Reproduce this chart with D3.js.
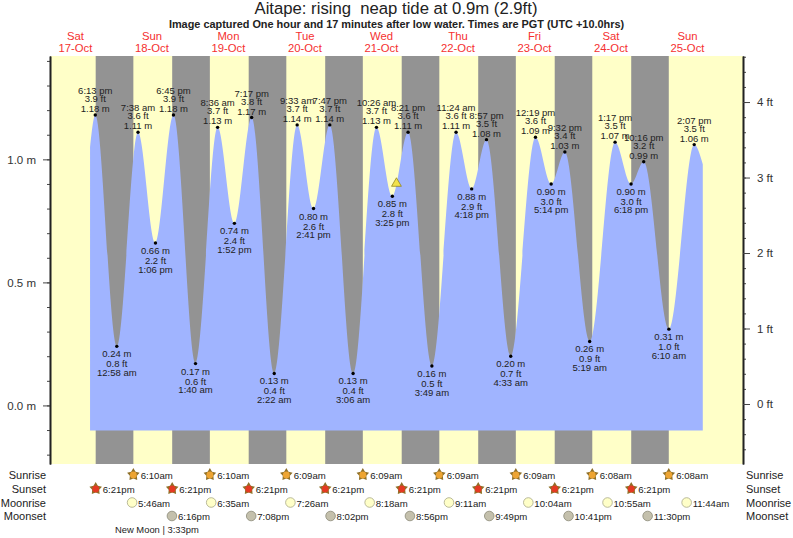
<!DOCTYPE html>
<html>
<head>
<meta charset="utf-8">
<script src="https://cdn.jsdelivr.net/npm/d3@7"></script>
<style>
  body { margin: 0; background: #fff; }
  svg { display: block; font-family: "Liberation Sans", sans-serif; }
  text { white-space: pre; }
</style>
</head>
<body>
<svg id="chart" width="793" height="538"></svg>
<script>
// Tide turning points, first and last entries are where the plotted curve is cut off
var tideTimes = ["17-Oct 4:35 pm", "17-Oct 6:13 pm", "18-Oct 12:58 am", "18-Oct 7:38 am", "18-Oct 1:06 pm", "18-Oct 6:45 pm",
  "19-Oct 1:40 am", "19-Oct 8:36 am", "19-Oct 1:52 pm", "19-Oct 7:17 pm", "20-Oct 2:22 am", "20-Oct 9:33 am", "20-Oct 2:41 pm",
  "20-Oct 7:47 pm", "21-Oct 3:06 am", "21-Oct 10:26 am", "21-Oct 3:25 pm", "21-Oct 8:21 pm", "22-Oct 3:49 am", "22-Oct 11:24 am",
  "22-Oct 4:18 pm", "22-Oct 8:57 pm", "23-Oct 4:33 am", "23-Oct 12:19 pm", "23-Oct 5:14 pm", "23-Oct 9:32 pm", "24-Oct 5:19 am",
  "24-Oct 1:17 pm", "24-Oct 6:18 pm", "24-Oct 10:16 pm", "25-Oct 6:10 am", "25-Oct 2:07 pm", "25-Oct 4:48 pm"];
var tideMetres = [1.05, 1.18, 0.24, 1.11, 0.66, 1.18, 0.17, 1.13, 0.74, 1.17, 0.13, 1.14, 0.80, 1.14, 0.13, 1.13, 0.85, 1.11,
  0.16, 1.11, 0.88, 1.08, 0.20, 1.09, 0.90, 1.03, 0.26, 1.07, 0.90, 0.99, 0.31, 1.06, 0.98];
var tideFeet = [null, 3.9, 0.8, 3.6, 2.2, 3.9, 0.6, 3.7, 2.4, 3.8, 0.4, 3.7, 2.6, 3.7, 0.4, 3.7, 2.8, 3.6,
  0.5, 3.6, 2.9, 3.5, 0.7, 3.6, 3.0, 3.4, 0.9, 3.5, 3.0, 3.2, 1.0, 3.5, null];

var dayNames = ["Sat", "Sun", "Mon", "Tue", "Wed", "Thu", "Fri", "Sat", "Sun"];
var dayDates = ["17-Oct", "18-Oct", "19-Oct", "20-Oct", "21-Oct", "22-Oct", "23-Oct", "24-Oct", "25-Oct"];

var sunrises = ["18-Oct 6:10 am", "19-Oct 6:10 am", "20-Oct 6:09 am", "21-Oct 6:09 am", "22-Oct 6:09 am", "23-Oct 6:09 am", "24-Oct 6:08 am", "25-Oct 6:08 am"];
var sunsets = ["17-Oct 6:21 pm", "18-Oct 6:21 pm", "19-Oct 6:21 pm", "20-Oct 6:21 pm", "21-Oct 6:21 pm", "22-Oct 6:21 pm", "23-Oct 6:21 pm", "24-Oct 6:21 pm"];
var moonrises = ["18-Oct 5:46 am", "19-Oct 6:35 am", "20-Oct 7:26 am", "21-Oct 8:18 am", "22-Oct 9:11 am", "23-Oct 10:04 am", "24-Oct 10:55 am", "25-Oct 11:44 am"];
var moonsets = ["18-Oct 6:16 pm", "19-Oct 7:08 pm", "20-Oct 8:02 pm", "21-Oct 8:56 pm", "22-Oct 9:49 pm", "23-Oct 10:41 pm", "24-Oct 11:30 pm"];

var metreTicks = [0, 0.5, 1];
var footTicks = [0, 1, 2, 3, 4];

var parseTime = d3.utcParse("%d-%b %I:%M %p");
var svg = d3.select("#chart");

var top_y = 56, bottom_y = 464, left_x = 50, right_x = 743;

var x = d3.scaleUtc()
  .domain([parseTime("17-Oct 4:01 am"), parseTime("26-Oct 5:25 am")])
  .range([left_x, right_x]);
var yM = d3.scaleLinear().domain([-0.238, 1.42]).range([bottom_y, top_y]);
var yF = d3.scaleLinear().domain([-0.795, 4.61]).range([bottom_y, top_y]);

// Day background and nights
svg.append("rect")
  .attr("x", x.range()[0]).attr("y", top_y)
  .attr("width", right_x - left_x).attr("height", bottom_y - top_y)
  .attr("fill", "#ffffc8");

svg.selectAll("rect.night")
  .data(sunsets)
  .join("rect")
  .attr("class", "night")
  .attr("x", d => x(parseTime(d)))
  .attr("y", top_y)
  .attr("width", (d, i) => x(parseTime(sunrises[i])) - x(parseTime(d)))
  .attr("height", bottom_y - top_y)
  .attr("fill", "#939393");

// Water
var tide = tideTimes.map((t, i) => ({ time: parseTime(t), m: tideMetres[i], ft: tideFeet[i], raw: t }));
var area = d3.area()
  .x(d => x(d.time))
  .y0(yM(-0.102))
  .y1(d => yM(d.m))
  .curve(d3.curveMonotoneX);
svg.append("path").datum(tide).attr("d", area).attr("fill", "#a0b4ff");

// Axes
function styleAxis(g) {
  g.selectAll("path").attr("stroke", "#222").attr("stroke-width", 1.6);
  g.selectAll("line").attr("stroke", "#444");
  g.selectAll("text").attr("fill", "#333").attr("font-size", 11.5).attr("font-family", "Liberation Sans");
}
var leftMinor = [];
d3.range(-2, 15).forEach(i => leftMinor.push(i / 10));
var rightMinor = [];
d3.range(-3, 24).forEach(i => rightMinor.push(i / 5));

svg.append("g").attr("transform", "translate(" + left_x + ",0)")
  .call(d3.axisLeft(yM).tickValues(leftMinor).tickSize(3).tickFormat("").tickSizeOuter(0)).call(styleAxis);
svg.append("g").attr("transform", "translate(" + left_x + ",0)")
  .call(d3.axisLeft(yM).tickValues(metreTicks).tickSize(7).tickPadding(7).tickSizeOuter(0).tickFormat(d => d3.format(".1f")(d) + " m")).call(styleAxis);
svg.append("g").attr("transform", "translate(" + right_x + ",0)")
  .call(d3.axisRight(yF).tickValues(rightMinor).tickSize(3).tickFormat("").tickSizeOuter(0)).call(styleAxis);
svg.append("g").attr("transform", "translate(" + right_x + ",0)")
  .call(d3.axisRight(yF).tickValues(footTicks).tickSize(7).tickPadding(7).tickSizeOuter(0).tickFormat(d => d + " ft")).call(styleAxis);

// Titles
svg.append("text").attr("x", 396).attr("y", 14).attr("text-anchor", "middle")
  .attr("font-size", 16.7).attr("fill", "#222").text("Aitape: rising  neap tide at 0.9m (2.9ft)");
svg.append("text").attr("x", 396.5).attr("y", 28).attr("text-anchor", "middle")
  .attr("font-size", 10.9).attr("font-weight", "bold").attr("fill", "#222")
  .text("Image captured One hour and 17 minutes after low water. Times are PGT (UTC +10.0hrs)");

// Day headings sit over noon
dayDates.forEach((d, i) => {
  var cx = x(parseTime(d + " 12:00 pm"));
  svg.append("text").attr("x", cx).attr("y", 40).attr("text-anchor", "middle")
    .attr("font-size", 11.3).attr("fill", "#f53030").text(dayNames[i]);
  svg.append("text").attr("x", cx).attr("y", 52).attr("text-anchor", "middle")
    .attr("font-size", 11.3).attr("fill", "#f53030").text(d);
});

// High and low labels
var turning = tide.filter(d => d.ft !== null);
svg.selectAll("circle.turn").data(turning).join("circle")
  .attr("class", "turn")
  .attr("cx", d => x(d.time)).attr("cy", d => yM(d.m)).attr("r", 1.7).attr("fill", "#000");

turning.forEach((d, i) => {
  var isHigh = i == 0 || d.m > turning[i - 1].m;
  var cx = x(d.time), cy = yM(d.m);
  var clock = d.raw.split(" ").slice(1).join(" ");
  var lines = isHigh
    ? [[clock, -21], [d3.format(".1f")(d.ft) + " ft", -13], [d3.format(".2f")(d.m) + " m", -3]]
    : [[d3.format(".2f")(d.m) + " m", 11], [d3.format(".1f")(d.ft) + " ft", 21], [clock, 29.5]];
  lines.forEach(l => {
    svg.append("text").attr("x", cx).attr("y", cy + l[1]).attr("text-anchor", "middle")
      .attr("font-size", 9.5).attr("fill", "#222").text(l[0]);
  });
});

// Capture marker
var captured = parseTime("21-Oct 4:42 pm");
svg.append("path")
  .attr("transform", "translate(" + x(captured) + "," + (yM(0.9) - 0.5) + ")")
  .attr("d", d3.symbol(d3.symbolTriangle, 42)())
  .attr("fill", "#f2e24a").attr("stroke", "#8a7a10").attr("stroke-width", 0.7);

// Almanac rows
function rowLabel(text, y) {
  svg.append("text").attr("x", 46).attr("y", y + 4).attr("text-anchor", "end").attr("font-size", 11).attr("fill", "#222").text(text);
  svg.append("text").attr("x", 746).attr("y", y + 4).attr("font-size", 11).attr("fill", "#222").text(text);
}
function rowTimes(list, y, gap, draw) {
  list.forEach(t => {
    var cx = x(parseTime(t));
    draw(svg.append("g").attr("transform", "translate(" + cx + "," + y + ")"));
    svg.append("text").attr("x", cx + gap).attr("y", y + 4).attr("font-size", 9.6).attr("fill", "#222")
      .text(t.split(" ")[1] + t.split(" ")[2]);
  });
}
// Fat five pointed star, lineRadial has angle 0 pointing up
var starPoints = d3.range(10).map(i => [i * Math.PI / 5, i % 2 ? 3.7 : 6.6]);
var starPath = d3.lineRadial().curve(d3.curveLinearClosed)(starPoints);
function sunIcon(fill) {
  return g => {
    g.append("path").attr("d", starPath).attr("transform", "translate(0,-0.3)").attr("fill", "#8f7028");
    g.append("circle").attr("r", 3.4).attr("fill", fill);
  };
}
function moonIcon(fill, stroke) {
  return g => g.append("circle").attr("r", 4.8).attr("fill", fill).attr("stroke", stroke).attr("stroke-width", 0.8);
}
rowLabel("Sunrise", 475);
rowLabel("Sunset", 489);
rowLabel("Moonrise", 502.5);
rowLabel("Moonset", 516);
rowTimes(sunrises, 475, 7.4, sunIcon("#eda432"));
rowTimes(sunsets, 489, 7, sunIcon("#e43a22"));
rowTimes(moonrises, 502.5, 6, moonIcon("#ffffc8", "#a8a888"));
rowTimes(moonsets, 516, 6, moonIcon("#c4c0ac", "#8c8a78"));

svg.append("text").attr("x", 115).attr("y", 533).attr("font-size", 9.4).attr("fill", "#222").text("New Moon | 3:33pm");
</script>
</body>
</html>
